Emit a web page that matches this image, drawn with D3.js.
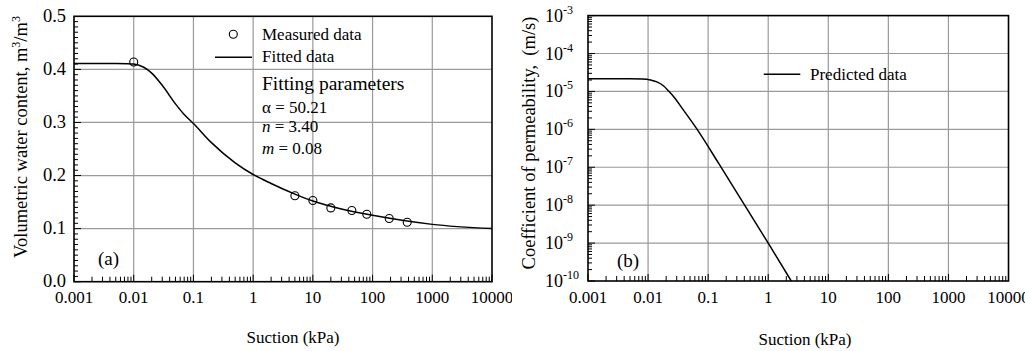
<!DOCTYPE html>
<html><head><meta charset="utf-8">
<script src="https://cdn.jsdelivr.net/npm/d3@7"></script>
<style>
html,body{margin:0;padding:0;background:#fff;}
svg{display:block;}
text{font-family:"Liberation Serif","Times New Roman",serif;fill:#000;white-space:pre;}
</style></head>
<body>
<svg id="chart" width="1025" height="351"></svg>
<script>
// ---- data ----
const xTickValues = [0.001, 0.01, 0.1, 1, 10, 100, 1000, 10000];
const xTickLabels = ["0.001", "0.01", "0.1", "1", "10", "100", "1000", "10000"];
const yTickValuesA = [0, 0.1, 0.2, 0.3, 0.4, 0.5];
const yTickLabelsA = ["0.0", "0.1", "0.2", "0.3", "0.4", "0.5"];
const yTickExpB = [-3, -4, -5, -6, -7, -8, -9, -10];

const fittedSuction = [0.001, 0.005, 0.008, 0.01, 0.0147, 0.02, 0.03, 0.05, 0.07, 0.1, 0.2, 0.5, 1, 2, 5, 10, 30, 100, 1000, 10000];
const fittedTheta   = [0.411, 0.411, 0.4108, 0.4100, 0.404, 0.393, 0.370, 0.335, 0.315, 0.298, 0.262, 0.224, 0.202, 0.185, 0.165, 0.152, 0.137, 0.125, 0.108, 0.100];

const measuredSuction = [0.01, 5, 10, 20, 45, 80, 190, 380];
const measuredTheta   = [0.414, 0.162, 0.153, 0.139, 0.134, 0.127, 0.119, 0.112];

const predSuction = [0.001, 0.005, 0.008, 0.011, 0.014, 0.018, 0.022, 0.028, 0.036, 0.0656, 0.15, 0.4, 1.0, 2.42];
const predK       = [2.15e-5, 2.15e-5, 2.12e-5, 2.0e-5, 1.78e-5, 1.41e-5, 1.02e-5, 6.6e-6, 3.8e-6, 1.0e-6, 1.26e-7, 1.03e-8, 1.0e-9, 1.0e-10];

// ---- drawing ----
const svg = d3.select("#chart");
const defs = svg.append("defs");
defs.append("clipPath").attr("id", "clipA").append("rect").attr("x", 0).attr("y", 0).attr("width", 512).attr("height", 351);

const GRID = "#9a9a9a";

function minorLog(domain) {
  const out = [];
  for (let e = Math.round(Math.log10(domain[0])); e < Math.round(Math.log10(domain[1])); e++) {
    for (let m = 2; m <= 9; m++) out.push(m * Math.pow(10, e));
  }
  return out;
}

function xAxisPart(g, x, y0, y1, labelY) {
  g.selectAll(".vgrid").data(xTickValues.slice(1, -1)).join("line")
    .attr("x1", d => x(d)).attr("x2", d => x(d)).attr("y1", y1).attr("y2", y0)
    .attr("stroke", GRID).attr("stroke-width", 1.2);
  g.selectAll(".xminor").data(minorLog([xTickValues[0], xTickValues[xTickValues.length - 1]])).join("line")
    .attr("x1", d => x(d)).attr("x2", d => x(d)).attr("y1", y0).attr("y2", y0 - 5)
    .attr("stroke", "#000").attr("stroke-width", 1);
  g.selectAll(".xmajor").data(xTickValues).join("line")
    .attr("x1", d => x(d)).attr("x2", d => x(d)).attr("y1", y0).attr("y2", y0 - 7)
    .attr("stroke", "#000").attr("stroke-width", 1);
  g.selectAll(".xlab").data(xTickValues).join("text")
    .attr("x", d => x(d)).attr("y", labelY).attr("text-anchor", "middle")
    .attr("font-size", 17).text((d, i) => xTickLabels[i]);
}

// ---------- Panel (a) ----------
const gA = svg.append("g").attr("clip-path", "url(#clipA)");
const xA = d3.scaleLog().domain([0.001, 10000]).range([74, 492]);
const yA = d3.scaleLinear().domain([0, 0.5]).range([281.7, 16.3]);

gA.selectAll(".hgrid").data(yTickValuesA.slice(1, -1)).join("line")
  .attr("x1", 74).attr("x2", 492).attr("y1", d => yA(d)).attr("y2", d => yA(d))
  .attr("stroke", GRID).attr("stroke-width", 1.2);
xAxisPart(gA, xA, 281.7, 16.3, 303);
gA.selectAll(".yminor").data(d3.range(0, 50).map(i => i / 100)).join("line")
  .attr("x1", 74).attr("x2", d => 74 + (Math.round(d * 100) % 10 === 0 ? 7 : 4))
  .attr("y1", d => yA(d)).attr("y2", d => yA(d))
  .attr("stroke", "#000").attr("stroke-width", 1);
gA.selectAll(".ylab").data(yTickValuesA).join("text")
  .attr("x", 66).attr("y", d => yA(d) + 5.5).attr("text-anchor", "end")
  .attr("font-size", 18.5).text((d, i) => yTickLabelsA[i]);
gA.append("rect").attr("x", 74).attr("y", 16.3).attr("width", 418).attr("height", 265.4)
  .attr("fill", "none").attr("stroke", "#000").attr("stroke-width", 1.6);

const lineA = d3.line().x(d => xA(d[0])).y(d => yA(d[1])).curve(d3.curveMonotoneX);
gA.append("path").datum(fittedSuction.map((s, i) => [s, fittedTheta[i]]))
  .attr("d", lineA).attr("fill", "none").attr("stroke", "#000").attr("stroke-width", 1.5);
gA.selectAll(".meas").data(measuredSuction.map((s, i) => [s, measuredTheta[i]])).join("circle")
  .attr("cx", d => xA(d[0])).attr("cy", d => yA(d[1])).attr("r", 4)
  .attr("fill", "none").attr("stroke", "#000").attr("stroke-width", 1.1);

// legend (a)
gA.append("circle").attr("cx", 233.3).attr("cy", 34.3).attr("r", 4).attr("fill", "none").attr("stroke", "#000").attr("stroke-width", 1.1);
gA.append("text").attr("x", 262).attr("y", 40).attr("font-size", 17).text("Measured data");
gA.append("line").attr("x1", 215).attr("x2", 252).attr("y1", 57.3).attr("y2", 57.3).attr("stroke", "#000").attr("stroke-width", 1.5);
gA.append("text").attr("x", 262).attr("y", 62).attr("font-size", 17).text("Fitted data");
gA.append("text").attr("x", 262).attr("y", 90).attr("font-size", 19.5).text("Fitting parameters");
gA.append("text").attr("x", 262).attr("y", 113).attr("font-size", 17).text("\u03b1 = 50.21");
const tn = gA.append("text").attr("x", 262).attr("y", 132).attr("font-size", 17);
tn.append("tspan").attr("font-style", "italic").text("n");
tn.append("tspan").text(" = 3.40");
const tm = gA.append("text").attr("x", 262).attr("y", 154).attr("font-size", 17);
tm.append("tspan").attr("font-style", "italic").text("m");
tm.append("tspan").text(" = 0.08");
gA.append("text").attr("x", 98).attr("y", 265).attr("font-size", 19).text("(a)");

gA.append("text").attr("x", 293).attr("y", 343).attr("text-anchor", "middle").attr("font-size", 17).text("Suction (kPa)");
const ytA = gA.append("text").attr("transform", "translate(27,137) rotate(-90)").attr("text-anchor", "middle").attr("font-size", 18.5);
ytA.append("tspan").text("Volumetric water content, m");
ytA.append("tspan").attr("dy", -7).attr("font-size", 12).text("3");
ytA.append("tspan").attr("dy", 7).text("/m");
ytA.append("tspan").attr("dy", -7).attr("font-size", 12).text("3");

// ---------- Panel (b) ----------
const gB = svg.append("g");
const xB = d3.scaleLog().domain([0.001, 10000]).range([588, 1008.5]);
const yB = d3.scaleLog().domain([1e-10, 1e-3]).range([281, 15.6]);

gB.selectAll(".hgrid").data(yTickExpB.slice(1, -1)).join("line")
  .attr("x1", 588).attr("x2", 1008.5).attr("y1", d => yB(Math.pow(10, d))).attr("y2", d => yB(Math.pow(10, d)))
  .attr("stroke", GRID).attr("stroke-width", 1.2);
xAxisPart(gB, xB, 281, 15.6, 303);
gB.selectAll(".yminor").data(minorLog([1e-10, 1e-3])).join("line")
  .attr("x1", 588).attr("x2", 592).attr("y1", d => yB(d)).attr("y2", d => yB(d))
  .attr("stroke", "#000").attr("stroke-width", 1);
gB.selectAll(".ymajor").data(yTickExpB).join("line")
  .attr("x1", 588).attr("x2", 595).attr("y1", d => yB(Math.pow(10, d))).attr("y2", d => yB(Math.pow(10, d)))
  .attr("stroke", "#000").attr("stroke-width", 1);
const ylB = gB.selectAll(".ylab").data(yTickExpB).join("text")
  .attr("x", 545).attr("y", d => yB(Math.pow(10, d)) + 6).attr("font-size", 18);
ylB.append("tspan").text("10");
ylB.append("tspan").attr("dy", -8).attr("font-size", 12).text(d => "-" + Math.abs(d));
gB.append("rect").attr("x", 588).attr("y", 15.6).attr("width", 420.5).attr("height", 265.4)
  .attr("fill", "none").attr("stroke", "#000").attr("stroke-width", 1.6);

const lineB = d3.line().x(d => xB(d[0])).y(d => yB(d[1])).curve(d3.curveMonotoneX);
gB.append("path").datum(predSuction.map((s, i) => [s, predK[i]]))
  .attr("d", lineB).attr("fill", "none").attr("stroke", "#000").attr("stroke-width", 1.5);

gB.append("line").attr("x1", 763.7).attr("x2", 800.3).attr("y1", 74.3).attr("y2", 74.3).attr("stroke", "#000").attr("stroke-width", 1.5);
gB.append("text").attr("x", 810).attr("y", 80).attr("font-size", 17).text("Predicted data");
gB.append("text").attr("x", 617).attr("y", 267).attr("font-size", 19).text("(b)");

gB.append("text").attr("x", 805).attr("y", 345).attr("text-anchor", "middle").attr("font-size", 17).text("Suction (kPa)");
gB.append("text").attr("transform", "translate(535,143) rotate(-90)").attr("text-anchor", "middle").attr("font-size", 18.5)
  .text("Coefficient of permeability,  (m/s)");
</script>
</body></html>
